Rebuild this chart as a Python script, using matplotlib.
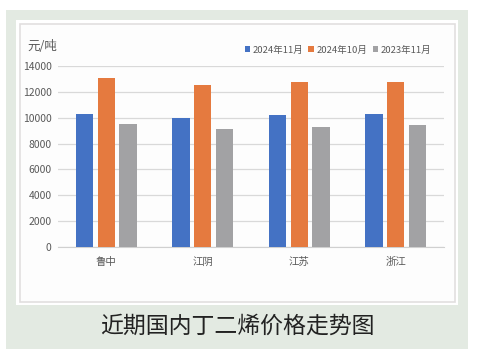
import matplotlib
matplotlib.use("Agg")
import matplotlib.pyplot as plt
from matplotlib.patches import Rectangle
import numpy as np

plt.rcParams['font.family'] = ['Noto Sans CJK SC', 'DejaVu Sans']

categories = ["鲁中", "江阴", "江苏", "浙江"]
series_names = ["2024年11月", "2024年10月", "2023年11月"]
nov_2024 = [10250, 10000, 10200, 10250]
oct_2024 = [13100, 12550, 12800, 12800]
nov_2023 = [9550, 9150, 9300, 9450]
colors = ["#4472C4", "#E57A3F", "#A2A2A4"]
yticks = [0, 2000, 4000, 6000, 8000, 10000, 12000, 14000]
title = "近期国内丁二烯价格走势图"
unit = "元/吨"

W, H = 478, 356
fig = plt.figure(figsize=(W / 100, H / 100), dpi=100)
fig.patch.set_facecolor("white")

def box(x0, y0, x1, y1, **kw):
    fig.patches.append(Rectangle((x0 / W, 1 - y1 / H), (x1 - x0) / W, (y1 - y0) / H,
                                 transform=fig.transFigure, **kw))

box(6, 10, 468, 349, facecolor="#E3EAE2", edgecolor="none", zorder=-10)
box(16, 20, 458, 305, facecolor="white", edgecolor="none", zorder=-9)
box(19.5, 23.5, 455, 302, facecolor="#FDFDFD", edgecolor="#E2DFDF", linewidth=1.2, zorder=-8)

ax = fig.add_axes([58 / W, 1 - 247 / H, (444 - 58) / W, (247 - 66) / H])
ax.set_facecolor("none")
ax.set_zorder(1)

x = np.arange(len(categories))
bw = 0.18
gap = 0.045
data = [nov_2024, oct_2024, nov_2023]
for i, (vals, c, name) in enumerate(zip(data, colors, series_names)):
    ax.bar(x + (i - 1) * (bw + gap), vals, width=bw, color=c, label=name, zorder=3)

ax.set_xlim(-0.5, len(categories) - 0.5)
ax.set_ylim(0, 14000)
ax.set_yticks(yticks)
ax.set_yticklabels([str(v) for v in yticks], fontsize=7.5, color="#595959")
ax.set_xticks(x)
ax.set_xticklabels(categories, fontsize=7.5, color="#595959")
ax.tick_params(axis="both", length=0)
ax.tick_params(axis="y", pad=4.5)
ax.tick_params(axis="x", pad=7)
ax.grid(axis="y", color="#D9D9D9", linewidth=0.9, zorder=0)
for s in ["top", "right", "left"]:
    ax.spines[s].set_visible(False)
ax.spines["bottom"].set_color("#D0D0D0")

leg = fig.legend(loc="center left", bbox_to_anchor=(236 / W, 1 - 50 / H), ncol=3,
                 frameon=False, fontsize=6.8, handlelength=0.6, handleheight=0.6,
                 handletextpad=0.3, columnspacing=0.5, labelcolor="#595959")

fig.text(27 / W, 1 - 46 / H, unit, fontsize=9, color="#595959", va="center", ha="left")
fig.text(237 / W, 1 - 326 / H, title, fontsize=16.5, color="#222222", va="center",
         ha="center")

fig.savefig("out.png", dpi=100)
